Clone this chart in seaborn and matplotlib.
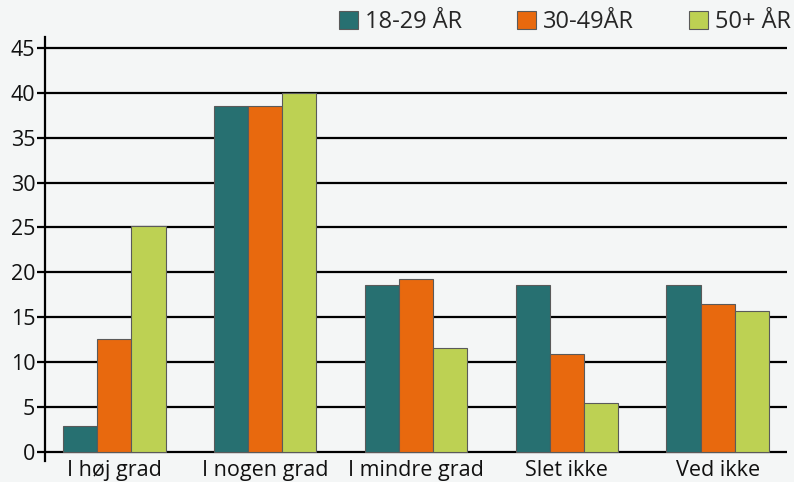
import matplotlib
matplotlib.use("Agg")
import matplotlib.pyplot as plt
import seaborn as sns
import pandas as pd

categories = ["I høj grad", "I nogen grad", "I mindre grad", "Slet ikke", "Ved ikke"]
series_names = ["18-29 ÅR", "30-49ÅR", "50+ ÅR"]
v_18_29 = [2.9, 38.5, 18.6, 18.6, 18.6]
v_30_49 = [12.6, 38.5, 19.3, 10.9, 16.5]
v_50 = [25.2, 40.0, 11.6, 5.5, 15.7]
colors = ["#277071", "#E8690E", "#BDD153"]
yticks = [0, 5, 10, 15, 20, 25, 30, 35, 40, 45]

rows = []
for name, vals in zip(series_names, [v_18_29, v_30_49, v_50]):
    for c, v in zip(categories, vals):
        rows.append({"cat": c, "grp": name, "val": v})
df = pd.DataFrame(rows)

sns.set_style("white")
plt.rcParams["font.family"] = ["Open Sans", "DejaVu Sans"]
bg = "#F4F6F6"
fig = plt.figure(figsize=(7.94, 4.82), dpi=100, facecolor=bg)
ax = fig.add_axes([45/794, (482-461)/482, (787-45)/794, 424/482])
ax.set_facecolor(bg)

for t in yticks:
    ax.axhline(t, color="black", lw=1.6, zorder=0)

sns.barplot(data=df, x="cat", y="val", hue="grp", order=categories,
            hue_order=series_names, palette=colors, width=0.68, saturation=1,
            edgecolor="#5a5a5a", linewidth=0.8, ax=ax, zorder=2, errorbar=None)

ax.set_xlim(-0.46, 4.46)
ax.set_ylim(-1.0, 46.2)
ax.set_yticks(yticks)
ax.set_xlabel("")
ax.set_ylabel("")
for s in ["top", "right", "bottom"]:
    ax.spines[s].set_visible(False)
ax.spines["left"].set_color("black")
ax.spines["left"].set_linewidth(1.6)
ax.tick_params(axis="y", which="both", left=True, length=6, width=1.6,
               color="black", labelsize=15.5, pad=1, labelcolor="#111111")
ax.tick_params(axis="x", bottom=False, labelsize=15.5, pad=-4, labelcolor="#111111")

ax.legend(loc="center right", bbox_to_anchor=(1.005, 1.035), ncol=3, frameon=False,
          fontsize=17, handlelength=0.78, handleheight=0.78, handletextpad=0.3,
          columnspacing=2.35, borderaxespad=0, borderpad=0)

fig.savefig("out.png", dpi=100, facecolor=bg)
